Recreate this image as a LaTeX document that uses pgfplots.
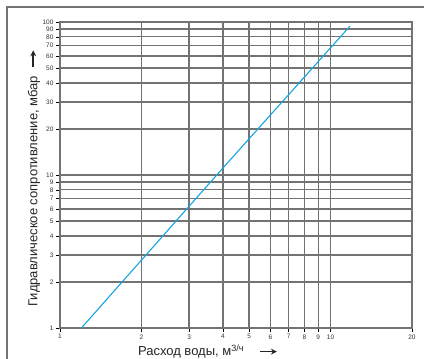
\documentclass[border=0pt]{standalone}
\usepackage{fontspec}
\setmainfont{Liberation Sans}
\usepackage{pgfplots}
\pgfplotsset{compat=1.18}
\usetikzlibrary{arrows.meta}
\definecolor{curve}{RGB}{20,165,225}
\definecolor{gline}{RGB}{115,115,115}
\newcommand{\labarrow}{\tikz[baseline=-0.6ex]\draw[line width=1.5pt,-{Stealth[length=6pt,width=6pt]}] (0,0) -- (17pt,0);}
\begin{document}
\begin{tikzpicture}[x=1pt,y=1pt]
\useasboundingbox (-60,-31) rectangle (364,328);
\draw[gline,line width=1.5pt] (-53,-40) -- (-53,321) -- (370,321);
\begin{axis}[
  at={(0,0)}, anchor=south west,
  scale only axis, width=352pt, height=306pt,
  xmode=log, ymode=log,
  xmin=1, xmax=20, ymin=1, ymax=100,
  xtick={1,2,3,4,5,6,7,8,9,10,20},
  xticklabels={1,2,3,4,5,6,7,8,9,10,20},
  ytick={1,2,3,4,5,6,7,8,9,10,20,30,40,50,60,70,80,90,100},
  yticklabels={1,2,3,4,5,6,7,8,9,10,20,30,40,50,60,70,80,90,100},
  minor tick num=0, minor xtick={}, minor ytick={},
  extra x ticks={3,4,7,8,10},
  extra x tick labels={},
  extra y ticks={6,8,9,10,60,80,90},
  extra y tick labels={},
  extra x tick style={grid style={black,line width=0.8pt}, major tick length=0pt},
  extra y tick style={grid style={black!85,line width=0.8pt}, major tick length=0pt},
  grid=major,
  major grid style={gline,line width=1.3pt},
  axis line style={gline,line width=1.5pt},
  tick style={black,line width=0.6pt},
  tick align=outside, major tick length=4pt,
  xtick pos=bottom, ytick pos=left,
  tick label style={font=\fontsize{6.5}{7}\selectfont, text=black!80},
  /pgf/number format/assume math mode=true,
  xticklabel style={yshift=1pt},
  yticklabel style={xshift=1pt},
  xlabel={Расход воды, м\textsuperscript{3/ч}\hspace{15pt}\labarrow},
  ylabel={Гидравлическое сопротивление, мбар\hspace{8pt}\labarrow},
  label style={font=\fontsize{13}{14}\selectfont, text=black!85},
  xlabel style={at={(axis description cs:0.42,-0.077)}, anchor=center},
  ylabel style={at={(axis description cs:-0.074,0.49)}, anchor=center},
  clip=false,
]
\addplot[curve, line width=1.1pt] coordinates {(1.2,1) (4,11.1) (11.8,94)};
\end{axis}
\end{tikzpicture}
\end{document}
